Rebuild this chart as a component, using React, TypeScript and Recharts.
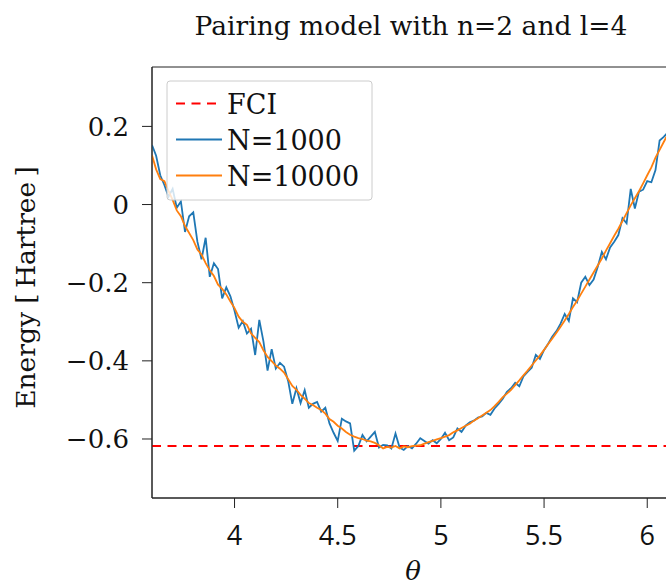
import React from "react";
import { LineChart, Line, XAxis, YAxis, ReferenceArea } from "recharts";

// variational angle theta, sampled every 0.02
const theta = [
  3.6, 3.62, 3.64, 3.66, 3.68, 3.7, 3.72, 3.74, 3.76, 3.78,
  3.8, 3.82, 3.84, 3.86, 3.88, 3.9, 3.92, 3.94, 3.96, 3.98,
  4.0, 4.02, 4.04, 4.06, 4.08, 4.1, 4.12, 4.14, 4.16, 4.18,
  4.2, 4.22, 4.24, 4.26, 4.28, 4.3, 4.32, 4.34, 4.36, 4.38,
  4.4, 4.42, 4.44, 4.46, 4.48, 4.5, 4.52, 4.54, 4.56, 4.58,
  4.6, 4.62, 4.64, 4.66, 4.68, 4.7, 4.72, 4.74, 4.76, 4.78,
  4.8, 4.82, 4.84, 4.86, 4.88, 4.9, 4.92, 4.94, 4.96, 4.98,
  5.0, 5.02, 5.04, 5.06, 5.08, 5.1, 5.12, 5.14, 5.16, 5.18,
  5.2, 5.22, 5.24, 5.26, 5.28, 5.3, 5.32, 5.34, 5.36, 5.38,
  5.4, 5.42, 5.44, 5.46, 5.48, 5.5, 5.52, 5.54, 5.56, 5.58,
  5.6, 5.62, 5.64, 5.66, 5.68, 5.7, 5.72, 5.74, 5.76, 5.78,
  5.8, 5.82, 5.84, 5.86, 5.88, 5.9, 5.92, 5.94, 5.96, 5.98,
  6.0, 6.02, 6.04, 6.06, 6.08, 6.1, 6.12,
];

// energy with N=1000 samples
const energyN1000 = [
  0.152, 0.125, 0.075, 0.05, 0.02, 0.04, -0.008, 0.008, -0.07, -0.03,
  -0.02, -0.095, -0.14, -0.085, -0.185, -0.15, -0.165, -0.24, -0.212, -0.235,
  -0.272, -0.315, -0.298, -0.33, -0.318, -0.385, -0.295, -0.35, -0.425, -0.37,
  -0.42, -0.405, -0.415, -0.452, -0.51, -0.47, -0.508, -0.475, -0.52, -0.51,
  -0.505, -0.53, -0.52, -0.56, -0.584, -0.605, -0.548, -0.555, -0.56, -0.63,
  -0.618, -0.59, -0.606, -0.594, -0.582, -0.622, -0.615, -0.616, -0.624, -0.586,
  -0.622, -0.628, -0.618, -0.624, -0.612, -0.598, -0.605, -0.612, -0.603, -0.611,
  -0.6, -0.584, -0.603, -0.596, -0.573, -0.582, -0.566, -0.557, -0.553, -0.545,
  -0.542, -0.533, -0.538, -0.522, -0.51, -0.497, -0.479, -0.47, -0.456, -0.465,
  -0.44, -0.428, -0.418, -0.385, -0.395, -0.372, -0.356, -0.338, -0.324, -0.305,
  -0.28, -0.298, -0.24, -0.25, -0.2, -0.185, -0.206, -0.192, -0.16, -0.121,
  -0.14, -0.11, -0.095, -0.078, -0.035, -0.048, 0.04, -0.01, 0.033, 0.038,
  0.06, 0.057, 0.088, 0.164, 0.173, 0.185, 0.2,
];

// energy with N=10000 samples
const energyN10000 = [
  0.126, 0.09, 0.065, 0.06, 0.035, 0.012, -0.015, -0.03, -0.055, -0.073,
  -0.091, -0.115, -0.128, -0.15, -0.168, -0.183, -0.205, -0.216, -0.23, -0.248,
  -0.265, -0.287, -0.3, -0.308, -0.33, -0.341, -0.352, -0.373, -0.39, -0.401,
  -0.412, -0.42, -0.43, -0.447, -0.464, -0.474, -0.487, -0.497, -0.508, -0.513,
  -0.52, -0.526, -0.535, -0.549, -0.556, -0.566, -0.573, -0.582, -0.589, -0.594,
  -0.598, -0.6, -0.604, -0.606, -0.61, -0.616, -0.624, -0.62, -0.622, -0.618,
  -0.624, -0.619, -0.621, -0.618, -0.617, -0.616, -0.612, -0.608, -0.605, -0.601,
  -0.598, -0.594, -0.59, -0.583, -0.578, -0.572, -0.566, -0.561, -0.553, -0.547,
  -0.54, -0.533, -0.526, -0.516, -0.505, -0.493, -0.484, -0.474, -0.462, -0.45,
  -0.437, -0.425, -0.412, -0.399, -0.386, -0.372, -0.357, -0.343, -0.328, -0.313,
  -0.297, -0.28, -0.262, -0.246, -0.228, -0.21, -0.192, -0.174, -0.156, -0.138,
  -0.118, -0.099, -0.08, -0.062, -0.042, -0.022, -0.002, 0.016, 0.034, 0.054,
  0.075, 0.095, 0.12, 0.14, 0.16, 0.18, 0.2,
];

const fciEnergy = -0.618;

const xTicks = [4, 4.5, 5, 5.5, 6];
const yTicks = [-0.6, -0.4, -0.2, 0, 0.2];
const xDomain = [3.6, 6.12];
const yDomain = [-0.751, 0.352];

const legendItems = [
  { label: "FCI", color: "#ff0000", dash: "9 6.5" },
  { label: "N=1000", color: "#1f77b4", dash: undefined },
  { label: "N=10000", color: "#ff7f0e", dash: undefined },
];

const serif = "'DejaVu Serif', serif";
const frame = "#222";

const data = theta.map((t, i) => ({
  theta: t,
  fci: fciEnergy,
  n1000: energyN1000[i],
  n10000: energyN10000[i],
}));

const formatY = (v: number) => (v === 0 ? "0" : v.toFixed(1).replace("-", "\u2212"));

export default function App() {
  // pinned to the viewport so the body margin does not push things around
  return (
    <div style={{ position: "fixed", left: 0, top: 0, width: 666, height: 585, overflow: "hidden", background: "#fff" }}>
      <LineChart width={730} height={585} data={data} margin={{ top: 67, right: 58, bottom: 27, left: 8 }}>
        <XAxis
          dataKey="theta"
          type="number"
          domain={xDomain}
          ticks={xTicks}
          allowDataOverflow
          height={60}
          tickSize={10}
          tickMargin={18}
          stroke={frame}
          tick={{ fill: "#111", fontSize: 27, fontFamily: "'Open Sans', sans-serif" }}
        />
        <YAxis
          type="number"
          domain={yDomain}
          ticks={yTicks}
          allowDataOverflow
          width={144}
          tickSize={10}
          tickMargin={13}
          stroke={frame}
          tickFormatter={formatY}
          tick={{ fill: "#111", fontSize: 26, fontFamily: serif }}
        />
        <ReferenceArea x1={xDomain[0]} x2={xDomain[1]} y1={yDomain[0]} y2={yDomain[1]} fill="none" stroke={frame} />
        <Line dataKey="fci" stroke="#ff0000" strokeWidth={2} strokeDasharray="9 6.5" dot={false} isAnimationActive={false} />
        <Line dataKey="n1000" stroke="#1f77b4" strokeWidth={1.8} dot={false} isAnimationActive={false} />
        <Line dataKey="n10000" stroke="#ff7f0e" strokeWidth={1.8} dot={false} isAnimationActive={false} />
      </LineChart>

      <svg width={666} height={585} style={{ position: "absolute", left: 0, top: 0, pointerEvents: "none" }}>
        <text x={411} y={35} textAnchor="middle" fontFamily={serif} fontSize={26.5} fill="#111">
          Pairing model with n=2 and l=4
        </text>
        <text transform="translate(35,287.5) rotate(-90)" textAnchor="middle" fontFamily={serif} fontSize={26.5} fill="#111">
          {"Energy [\u2009Hartree\u2009]"}
        </text>
        <text x={413} y={580} textAnchor="middle" fontFamily={serif} fontStyle="italic" fontSize={26} fill="#111">
          θ
        </text>

        <rect x={167} y={81} width={205} height={119} rx={3} fill="#fff" fillOpacity={0.8} stroke="#cccccc" />
        {legendItems.map((item, i) => (
          <g key={item.label}>
            <line
              x1={176}
              x2={222}
              y1={103.5 + i * 36}
              y2={103.5 + i * 36}
              stroke={item.color}
              strokeWidth={item.dash ? 2 : 1.8}
              strokeDasharray={item.dash}
            />
            <text x={227} y={113.5 + i * 36} fontFamily={serif} fontSize={27} fill="#111">
              {item.label}
            </text>
          </g>
        ))}
      </svg>
    </div>
  );
}
